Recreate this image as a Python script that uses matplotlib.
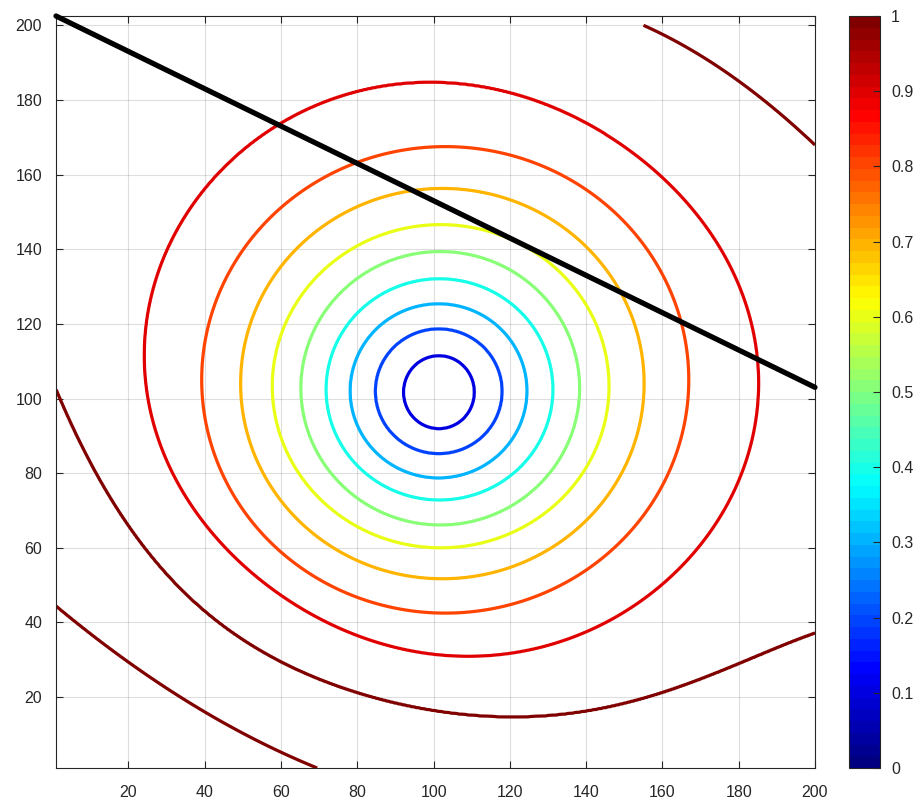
import numpy as np
import matplotlib
matplotlib.use("Agg")
import matplotlib.pyplot as plt
from matplotlib.colors import Normalize, ListedColormap
from matplotlib.cm import ScalarMappable
from numpy.polynomial import Polynomial

plt.rcParams['font.family'] = ['Liberation Sans', 'DejaVu Sans']

# contour levels drawn
draw_levels = [0.1, 0.2, 0.3, 0.4, 0.5, 0.6, 0.7, 0.8, 0.9, 1.0]

# inner rings (centre and half widths)
ring_level = [0.1, 0.2, 0.3, 0.4, 0.5, 0.6, 0.7, 0.8]
ring_cx = [101.4, 101.35, 101.3, 101.55, 101.75, 101.85, 102.3, 103.05]
ring_cy = [101.7, 101.95, 102.05, 102.45, 102.75, 103.3, 104.0, 105.0]
ring_rx = [9.3, 16.65, 23.2, 29.75, 36.55, 44.15, 52.9, 63.85]
ring_ry = [9.8, 16.75, 23.35, 29.65, 36.65, 43.3, 52.3, 62.5]

# 0.9 ring, radius per direction around (104, 106)
pole_x, pole_y = 104.0, 106.0
ang_09 = [3.4, 43.7, 59, 92.9, 123.6, 150, 175, 183.6, 199.6, 218.2, 232.8,
          244.6, 249.5, 273, 288.1, 297.8, 315, 356.5]
rad_09 = [80.9, 77.2, 76.9, 78.5, 81.2, 81.0, 80.3, 78.9, 77.5, 74.4, 72.7,
          73.1, 74.4, 75.1, 76.5, 77.1, 79.3, 81.3]

# level 1 lines (dark red)
arc_bottom_x = [1, 20, 40, 60, 77.9, 100, 117, 127.8, 140, 160, 180, 200]
arc_bottom_y = [102.6, 65.1, 43.6, 29.8, 21.4, 16.0, 14.6, 15.0, 16.6, 21.2,
                28.6, 37.2]
arc_top_x = [155.2, 169.9, 180, 200]
arc_top_y = [200, 191.7, 185.3, 167.9]
arc_corner_x = [1, 20, 40, 60, 69.1]
arc_corner_y = [44.3, 29.5, 15.9, 5.2, 1.2]

# black line
line_x = [1, 200]
line_y = [202.5, 103.0]

x_ticks = [20, 40, 60, 80, 100, 120, 140, 160, 180, 200]
y_ticks = [20, 40, 60, 80, 100, 120, 140, 160, 180, 200]
cbar_ticks = [0, 0.1, 0.2, 0.3, 0.4, 0.5, 0.6, 0.7, 0.8, 0.9, 1.0]
cbar_labels = ['0', '0.1', '0.2', '0.3', '0.4', '0.5', '0.6', '0.7', '0.8',
               '0.9', '1']


def fourier_polar(th, ang, rad, order=4):
    # low order periodic fit through the read radii
    a = np.radians(ang)
    cols = [np.ones_like(a)]
    for q in range(1, order + 1):
        cols += [np.cos(q * a), np.sin(q * a)]
    coef = np.linalg.lstsq(np.array(cols).T, np.asarray(rad, float), rcond=None)[0]
    tt = np.radians(th)
    out = coef[0] * np.ones_like(tt)
    for q in range(1, order + 1):
        out += coef[2 * q - 1] * np.cos(q * tt) + coef[2 * q] * np.sin(q * tt)
    return out


# build the field so that each curve above is a level line
gx = np.linspace(1, 200, 800)
gy = np.linspace(1, 200, 800)
X, Y = np.meshgrid(gx, gy)

S = []
for cx, cy, rx, ry in zip(ring_cx, ring_cy, ring_rx, ring_ry):
    S.append(np.hypot((X - cx) / rx, (Y - cy) / ry) - 1)
rho = np.hypot(X - pole_x, Y - pole_y)
th = np.degrees(np.arctan2(Y - pole_y, X - pole_x)) % 360
S.append(rho / fourier_polar(th, ang_09, rad_09) - 1)
S = np.array(S)
L = np.array(ring_level + [0.9])
n = len(L)

k = (S >= 0).sum(axis=0)
i = np.clip(k - 1, 0, n - 2)
si = np.take_along_axis(S, i[None], axis=0)[0]
sj = np.take_along_axis(S, (i + 1)[None], axis=0)[0]
with np.errstate(divide='ignore', invalid='ignore'):
    t = si / (si - sj)
Z = L[i] + t * (L[i + 1] - L[i])
Z = np.where(k == 0, L[0] * (S[0] + 1), Z)

# outside the 0.9 ring
f_bot = Polynomial.fit(arc_bottom_x, arc_bottom_y, 5)
f_top = Polynomial.fit(arc_top_x, arc_top_y, 2)
f_cor = Polynomial.fit(arc_corner_x, arc_corner_y, 2)
a = S[-1]
b = np.maximum(f_bot(X) - Y, np.where(X > 145, Y - f_top(X), -200.0))
c = f_cor(X) - Y
with np.errstate(divide='ignore', invalid='ignore'):
    z1 = 0.9 + 0.1 * a / (a - b / 150)
    u = b / (b - c)
    z2 = 1 + 0.4 * u * (1 - u)
    z3 = 1 - 0.09 * c / (c + 5)
Zout = np.where(b < 0, z1, np.where(c < 0, z2, z3))
Z = np.where(k == n, Zout, Z)

# MATLAB style jet with 64 entries
v = np.linspace(0, 1, 64)
jet64 = ListedColormap(np.clip(np.stack([
    np.minimum(4 * v - 1.5, -4 * v + 4.5),
    np.minimum(4 * v - 0.5, -4 * v + 3.5),
    np.minimum(4 * v + 0.5, -4 * v + 2.5)], axis=1), 0, 1))
norm = Normalize(0, 1)
dark = '#262626'

fig = plt.figure(figsize=(9.17, 7.99), dpi=100)
ax = fig.add_axes([56 / 917, 1 - 768 / 799, 759 / 917, 752 / 799])
cax = fig.add_axes([849 / 917, 1 - 768 / 799, 31 / 917, 752 / 799])

ax.contour(X, Y, Z, levels=draw_levels, cmap=jet64, norm=norm, linewidths=2.3)
ax.plot(line_x, line_y, color='black', linewidth=3.8, solid_capstyle='round',
        clip_on=False, zorder=5)

ax.set_xlim(1, 200)
ax.set_ylim(1, 202.5)
ax.set_xticks(x_ticks)
ax.set_yticks(y_ticks)
ax.grid(True, color=dark, alpha=0.15, linewidth=0.8)
ax.set_axisbelow(True)
ax.tick_params(direction='in', top=True, right=True, length=5, width=0.8,
               color=dark, labelcolor=dark, labelsize=11.5)
ax.tick_params(axis='x', pad=12)
ax.tick_params(axis='y', pad=10)
for sp in ax.spines.values():
    sp.set_color(dark)
    sp.set_linewidth(0.8)

cb = fig.colorbar(ScalarMappable(norm=norm, cmap=jet64), cax=cax,
                  ticks=cbar_ticks)
cb.ax.set_yticklabels(cbar_labels)
cb.ax.tick_params(direction='in', length=5, width=0.8, color=dark,
                  labelcolor=dark, labelsize=11.5, pad=8)
cb.outline.set_edgecolor(dark)
cb.outline.set_linewidth(0.8)

fig.savefig('out.png', dpi=100)
